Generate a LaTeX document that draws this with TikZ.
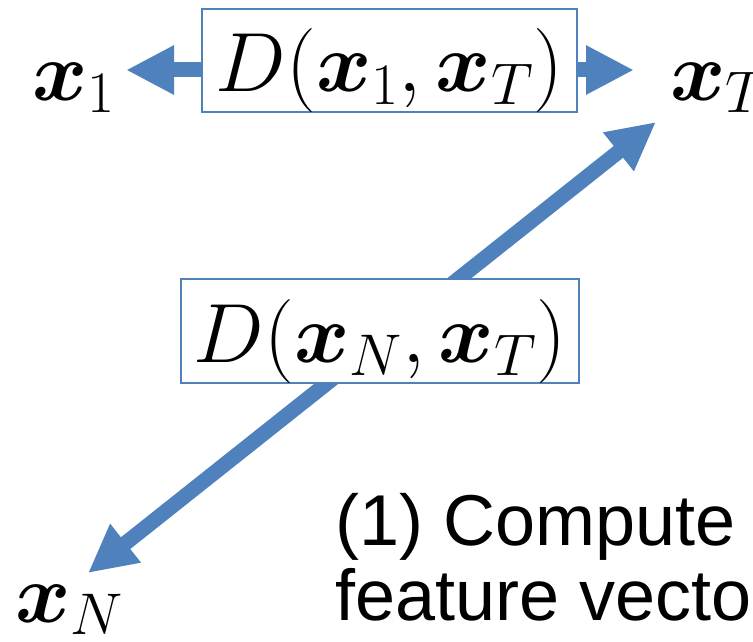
\RequirePackage{fix-cm}
\documentclass[tikz,border=0pt]{standalone}
\usepackage{amsmath}
\usepackage{fontspec}
\newfontfamily\arialfont{Liberation Sans}
\usetikzlibrary{arrows.meta,positioning}
\definecolor{officeblue}{HTML}{4F81BD}
\tikzset{
  mathfont/.style={font=\fontsize{84}{90}\selectfont},
  distbox/.style={draw=officeblue, line width=1.5pt, fill=white, inner sep=0pt,
    text height=70pt, text depth=7pt, mathfont},
  varlabel/.style={inner sep=0pt, anchor=base west, mathfont},
  steptext/.style={inner sep=0pt, anchor=base west, font=\arialfont\fontsize{72}{75}\selectfont},
  flowarrow/.style={draw=officeblue, line width=15pt, -{Triangle[length=48pt,width=46pt]}},
  twowayarrow/.style={draw=officeblue, line width=15pt,
    {Triangle[length=48pt,width=46pt]}-{Triangle[length=48pt,width=46pt]}}
}

\begin{document}
\begin{tikzpicture}[x=1pt, y=-1pt]
  \useasboundingbox (0,0) rectangle (753,642);
  \clip (0,0) rectangle (753,642);

  % end points of the arrows
  \coordinate (tip1) at (126,70);
  \coordinate (tipT) at (634,70);
  \coordinate (diagN) at (88,573);
  \coordinate (diagT) at (656,122);

  \draw[twowayarrow] (diagN) -- (diagT);

  \node[distbox, minimum width=375pt, minimum height=103pt] (d1T) at (389.5,60.5)
    {$D(\boldsymbol{x}_1,\boldsymbol{x}_T)$};
  \node[distbox, minimum width=398pt, minimum height=104pt] (dNT) at (380,331)
    {$D(\boldsymbol{x}_N,\boldsymbol{x}_T)$};

  \draw[flowarrow] (d1T.west |- tip1) -- (tip1);
  \draw[flowarrow] (d1T.east |- tipT) -- (tipT);

  \node[varlabel] (x1) at (32,100) {$\boldsymbol{x}_1$};
  \node[varlabel] (xT) at (670,100) {$\boldsymbol{x}_T$};
  \node[varlabel] (xN) at (15,622) {$\boldsymbol{x}_N$};

  \node[steptext] (stepa) at (335,545) {(1) Compute};
  \node[steptext] (stepb) at (335,620) {feature vecto};
\end{tikzpicture}
\end{document}
